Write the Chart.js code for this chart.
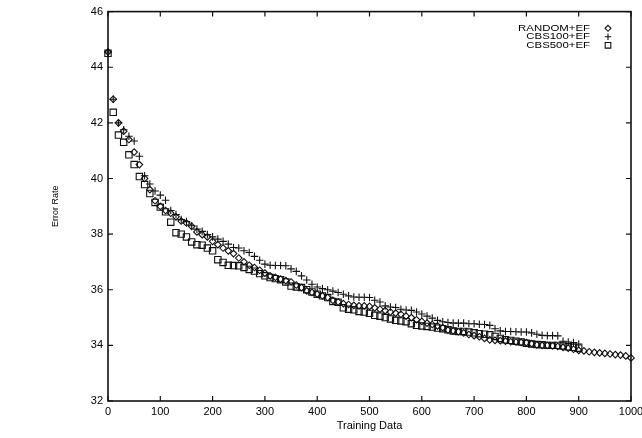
<!DOCTYPE html>
<html lang="en">
<head>
    <meta charset="UTF-8">
    <title>Error Rate vs Training Data</title>
    <script src="https://cdn.jsdelivr.net/npm/chart.js"></script>
    <style>
        html, body {
            margin: 0;
            padding: 0;
            background: #fff;
            width: 642px;
            height: 438px;
            overflow: hidden;
        }
        canvas {
            display: block;
        }
    </style>
</head>
<body>
    <canvas id="errChart" width="660" height="438"></canvas>

    <script>
        // training set sizes (x axis)
        const trainingSizes = [
            0, 10, 20, 30, 40, 50, 60, 70, 80, 90,
            100, 110, 120, 130, 140, 150, 160, 170, 180, 190,
            200, 210, 220, 230, 240, 250, 260, 270, 280, 290,
            300, 310, 320, 330, 340, 350, 360, 370, 380, 390,
            400, 410, 420, 430, 440, 450, 460, 470, 480, 490,
            500, 510, 520, 530, 540, 550, 560, 570, 580, 590,
            600, 610, 620, 630, 640, 650, 660, 670, 680, 690,
            700, 710, 720, 730, 740, 750, 760, 770, 780, 790,
            800, 810, 820, 830, 840, 850, 860, 870, 880, 890,
            900, 910, 920, 930, 940, 950, 960, 970, 980, 990,
            1000
        ];

        // error rates
        const randomEF = [
            44.55, 42.85, 42.0, 41.7, 41.4, 40.95, 40.5, 40.0, 39.6, 39.2,
            39.0, 38.85, 38.75, 38.62, 38.47, 38.4, 38.28, 38.08, 37.98, 37.9,
            37.74, 37.62, 37.5, 37.4, 37.3, 37.14, 37.0, 36.88, 36.8, 36.7,
            36.6, 36.5, 36.45, 36.38, 36.33, 36.28, 36.17, 36.08, 35.96, 35.9,
            35.84, 35.78, 35.72, 35.62, 35.56, 35.5, 35.47, 35.44, 35.42, 35.42,
            35.4, 35.35, 35.3, 35.25, 35.2, 35.16, 35.12, 35.05, 35.0, 34.92,
            34.86, 34.8, 34.75, 34.7, 34.64, 34.55, 34.52, 34.49, 34.45, 34.39,
            34.35, 34.31, 34.25, 34.2, 34.18, 34.17, 34.15, 34.13, 34.12, 34.11,
            34.1, 34.06, 34.02, 34.0, 34.0, 33.98, 33.96, 33.93, 33.9, 33.86,
            33.82, 33.8, 33.77, 33.75, 33.73, 33.71, 33.69, 33.67, 33.65, 33.62,
            33.55
        ];

        const cbs100EF = [
            44.55, 42.85, 42.0, 41.75, 41.52, 41.35, 40.8, 40.1, 39.8, 39.55,
            39.4, 39.22, 38.85, 38.7, 38.52, 38.45, 38.3, 38.18, 38.1, 37.98,
            37.9, 37.82, 37.74, 37.64, 37.52, 37.5, 37.4, 37.34, 37.2, 37.06,
            36.92, 36.88, 36.87, 36.87, 36.86, 36.75, 36.66, 36.5, 36.35, 36.2,
            36.1, 36.04, 36.0, 35.95, 35.9, 35.84, 35.78, 35.74, 35.73, 35.73,
            35.72, 35.62, 35.56, 35.42, 35.38, 35.36, 35.3, 35.27, 35.26, 35.2,
            35.13, 35.05, 34.98, 34.9, 34.85, 34.82, 34.8, 34.8, 34.8, 34.78,
            34.78, 34.76, 34.75, 34.72, 34.6, 34.52, 34.5, 34.5, 34.49, 34.48,
            34.48, 34.45, 34.4, 34.36, 34.35, 34.35, 34.34, 34.15, 34.12, 34.1,
            34.05
        ];

        const cbs500EF = [
            44.5, 42.38, 41.56, 41.3, 40.85, 40.5, 40.07, 39.78, 39.46, 39.14,
            38.97, 38.8, 38.43, 38.05, 38.0, 37.9, 37.72, 37.62, 37.6, 37.5,
            37.4, 37.08, 36.98, 36.88, 36.87, 36.86, 36.8, 36.73, 36.67, 36.58,
            36.5, 36.44, 36.4, 36.36, 36.28, 36.13, 36.1, 36.08, 36.0, 35.92,
            35.84, 35.78, 35.72, 35.58, 35.55, 35.35, 35.3, 35.28, 35.22, 35.2,
            35.15, 35.08, 35.05, 35.0, 34.95, 34.9, 34.88, 34.85, 34.78, 34.72,
            34.7, 34.68, 34.66, 34.62, 34.6, 34.56, 34.52, 34.5, 34.5, 34.48,
            34.45, 34.42, 34.4, 34.38, 34.32, 34.25, 34.2, 34.18, 34.15, 34.12,
            34.08, 34.05, 34.03, 34.02, 34.0, 34.0, 34.0, 33.98, 33.95, 33.93,
            33.9
        ];

        const seriesNames = ['RANDOM+EF', 'CBS100+EF', 'CBS500+EF'];
        const seriesStyles = ['rectRot', 'cross', 'rect'];

        const FONT = '"Liberation Sans", Arial, Helvetica, sans-serif';
        const INK = '#111';

        function toPoints(values) {
            return values.map((v, i) => ({ x: trainingSizes[i], y: v }));
        }

        // box around the plot with inward tick marks on all sides
        const framePlugin = {
            id: 'frame',
            beforeDatasetsDraw(chart) {
                const { ctx, chartArea: a, scales } = chart;
                const tl = 5;
                ctx.save();
                ctx.strokeStyle = INK;
                ctx.lineWidth = 1.6;
                ctx.strokeRect(a.left, a.top, a.right - a.left, a.bottom - a.top);
                ctx.lineWidth = 1.2;
                ctx.beginPath();
                scales.x.ticks.forEach(t => {
                    const px = scales.x.getPixelForValue(t.value);
                    ctx.moveTo(px, a.bottom);
                    ctx.lineTo(px, a.bottom - tl);
                    ctx.moveTo(px, a.top);
                    ctx.lineTo(px, a.top + tl);
                });
                scales.y.ticks.forEach(t => {
                    const py = scales.y.getPixelForValue(t.value);
                    ctx.moveTo(a.left, py);
                    ctx.lineTo(a.left + tl, py);
                    ctx.moveTo(a.right, py);
                    ctx.lineTo(a.right - tl, py);
                });
                ctx.stroke();
                ctx.restore();
            }
        };

        function drawMarker(ctx, style, x, y) {
            ctx.beginPath();
            if (style === 'rectRot') {
                const r = 3.0;
                ctx.moveTo(x, y - r);
                ctx.lineTo(x + r, y);
                ctx.lineTo(x, y + r);
                ctx.lineTo(x - r, y);
                ctx.closePath();
            } else if (style === 'cross') {
                const r = 3.2;
                ctx.moveTo(x - r, y);
                ctx.lineTo(x + r, y);
                ctx.moveTo(x, y - r);
                ctx.lineTo(x, y + r);
            } else {
                const s = 2.8;
                ctx.rect(x - s, y - s, 2 * s, 2 * s);
            }
            ctx.stroke();
        }

        // gnuplot-like key in the top right corner, text left of the symbol
        const keyPlugin = {
            id: 'key',
            afterDatasetsDraw(chart) {
                const { ctx, chartArea: a } = chart;
                ctx.save();
                ctx.font = '9.5px ' + FONT;
                ctx.fillStyle = '#000';
                ctx.strokeStyle = INK;
                ctx.lineWidth = 1.1;
                ctx.textAlign = 'right';
                ctx.textBaseline = 'middle';
                seriesNames.forEach((name, i) => {
                    const yy = a.top + 16.7 + i * 8.5;
                    // scan text is a bit wider than it is tall
                    ctx.save();
                    ctx.translate(a.right - 41, yy);
                    ctx.scale(1.2, 1);
                    ctx.fillText(name, 0, 0);
                    ctx.restore();
                    drawMarker(ctx, seriesStyles[i], a.right - 23, yy);
                });
                ctx.restore();
            }
        };

        function makeDataset(label, values, style, radius) {
            return {
                label: label,
                data: toPoints(values),
                pointStyle: style,
                pointRadius: radius,
                pointHoverRadius: radius,
                pointBorderWidth: 1.1,
                borderColor: INK,
                backgroundColor: 'rgba(255,255,255,0)',
                showLine: false,
                clip: 8
            };
        }

        const ctx = document.getElementById('errChart').getContext('2d');

        new Chart(ctx, {
            type: 'scatter',
            data: {
                datasets: [
                    makeDataset(seriesNames[0], randomEF, seriesStyles[0], 3.3),
                    makeDataset(seriesNames[1], cbs100EF, seriesStyles[1], 3.8),
                    makeDataset(seriesNames[2], cbs500EF, seriesStyles[2], 4.5)
                ]
            },
            options: {
                responsive: false,
                animation: false,
                layout: {
                    padding: { top: 9, right: 29, bottom: 0, left: 0 }
                },
                plugins: {
                    legend: { display: false },
                    tooltip: { enabled: false }
                },
                scales: {
                    x: {
                        type: 'linear',
                        min: 0,
                        max: 1000,
                        grid: { display: false, drawTicks: false },
                        border: { display: false },
                        ticks: {
                            stepSize: 100,
                            padding: 4,
                            color: '#000',
                            maxRotation: 0,
                            font: { family: FONT, size: 11 },
                            callback: v => String(v)
                        },
                        title: {
                            display: true,
                            text: 'Training Data',
                            color: '#000',
                            font: { family: FONT, size: 11 },
                            padding: { top: 0, bottom: 5 }
                        },
                        afterFit: s => { s.height = 37; }
                    },
                    y: {
                        type: 'linear',
                        min: 32,
                        max: 46,
                        grid: { display: false, drawTicks: false },
                        border: { display: false },
                        ticks: {
                            stepSize: 2,
                            padding: 5,
                            color: '#000',
                            font: { family: FONT, size: 11 },
                            callback: v => String(v)
                        },
                        title: {
                            display: true,
                            text: 'Error Rate',
                            color: '#000',
                            font: { family: FONT, size: 9 },
                            padding: { top: 50, bottom: 0 }
                        },
                        afterFit: s => { s.width = 108; }
                    }
                }
            },
            plugins: [framePlugin, keyPlugin]
        });
    </script>
</body>
</html>
